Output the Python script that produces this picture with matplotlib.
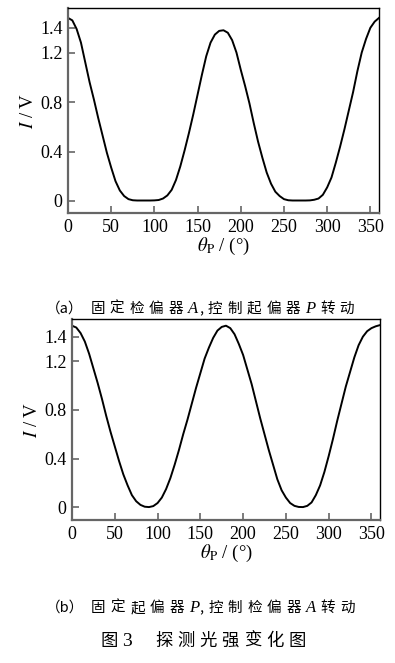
import matplotlib
matplotlib.use("Agg")
import matplotlib.pyplot as plt

# ---------------- data ----------------
theta = list(range(0, 361, 5))

# (a) analyzer A fixed, polarizer P rotating
intensity_a = [
    1.48, 1.46, 1.39, 1.28, 1.12, 0.96, 0.82, 0.67, 0.53, 0.39,
    0.27, 0.16, 0.085, 0.04, 0.015, 0.006, 0.004, 0.004, 0.004, 0.004,
    0.005, 0.008, 0.02, 0.045, 0.09, 0.17, 0.28, 0.41, 0.55, 0.70,
    0.86, 1.02, 1.17, 1.28, 1.345, 1.375, 1.38, 1.36, 1.30, 1.20,
    1.06, 0.93, 0.79, 0.63, 0.48, 0.35, 0.23, 0.14, 0.075, 0.04,
    0.015, 0.006, 0.004, 0.004, 0.004, 0.004, 0.005, 0.01, 0.02, 0.05,
    0.11, 0.19, 0.31, 0.44, 0.58, 0.73, 0.88, 1.05, 1.20, 1.31,
    1.40, 1.45, 1.48,
]

# (b) polarizer P fixed, analyzer A rotating
intensity_b = [
    1.49, 1.475, 1.43, 1.36, 1.26, 1.14, 1.02, 0.89, 0.75, 0.62,
    0.50, 0.38, 0.27, 0.18, 0.10, 0.05, 0.02, 0.005, 0.002, 0.01,
    0.035, 0.08, 0.15, 0.24, 0.35, 0.47, 0.60, 0.72, 0.85, 0.98,
    1.10, 1.22, 1.31, 1.39, 1.45, 1.48, 1.49, 1.47, 1.42, 1.34,
    1.25, 1.13, 1.01, 0.87, 0.73, 0.60, 0.47, 0.35, 0.23, 0.14,
    0.08, 0.035, 0.012, 0.003, 0.002, 0.012, 0.04, 0.10, 0.18, 0.29,
    0.42, 0.56, 0.71, 0.85, 0.99, 1.11, 1.23, 1.33, 1.40, 1.445,
    1.47, 1.485, 1.495,
]

xticks = [0, 50, 100, 150, 200, 250, 300, 350]
yticks = [0, 0.4, 0.8, 1.2, 1.4]
ytick_labels = ["0", "0.4", "0.8", "1.2", "1.4"]

# caption tokens: (text, kind)
caption_a = [("（a）", "word"), ("固定检偏器", "cjk"), ("A", "it"), (",", "word"),
             ("控制起偏器", "cjk"), ("P", "it"), ("转动", "cjk")]
caption_b = [("（b）", "word"), ("固定起偏器", "cjk"), ("P", "it"), (",", "word"),
             ("控制检偏器", "cjk"), ("A", "it"), ("转动", "cjk")]
title_tokens = [("图", "cjk"), ("3", "num"), ("探测光强变化图", "cjk")]

# ---------------- style ----------------
plt.rcParams["font.family"] = ["Liberation Serif", "DejaVu Serif"]
plt.rcParams["mathtext.fontset"] = "stix"

W, H = 395, 663
fig = plt.figure(figsize=(W / 100, H / 100), dpi=100)

spine_col = "#666666"


def make_axes(box, y, ylim):
    l, t, r, b = box
    ax = fig.add_axes([l / W, 1 - b / H, (r - l) / W, (b - t) / H])
    ax.plot(theta, y, color="black", lw=1.4)
    ax.set_xlim(0, 360)
    ax.set_ylim(*ylim)
    ax.set_xticks(xticks)
    ax.set_yticks(yticks)
    ax.set_yticklabels(ytick_labels)
    ax.tick_params(direction="in", length=5, width=1.2, color=spine_col,
                   labelsize=13, top=False, right=False)
    ax.tick_params(axis="x", pad=4)
    ax.tick_params(axis="y", pad=4)
    for s in ["left", "bottom"]:
        ax.spines[s].set_color(spine_col)
        ax.spines[s].set_linewidth(1.6)
    for s in ["top", "right"]:
        ax.spines[s].set_color("black")
        ax.spines[s].set_linewidth(1.0)
    ax.set_ylabel("$I$ / V", fontsize=13.5, labelpad=2)
    ax.set_xlabel(r"$\theta_{\mathrm{P}}$ / (°)", fontsize=13.5, labelpad=0)
    return ax


ax1 = make_axes((68, 8, 379, 213), intensity_a, (-0.097, 1.56))
ax2 = make_axes((72, 319, 380, 520), intensity_b, (-0.104, 1.545))

cjk = ["Noto Sans CJK SC", "DejaVu Sans"]


def chained_text(ax, x_px, y_px, tokens, size, gap, big_gaps=None):
    """Lay out text pieces one after another on one baseline.
    Each CJK character is its own piece, separated by `gap` points."""
    y = 1 - y_px / H
    pieces = []
    for i, (s, kind) in enumerate(tokens):
        extra = big_gaps.get(i, 0) if big_gaps else 0
        if kind == "cjk":
            for j, ch in enumerate(s):
                pieces.append((ch, dict(family=cjk, fontsize=size),
                               gap + (extra if j == 0 else 0)))
        elif kind == "word":
            pieces.append((s, dict(family=cjk, fontsize=size), 0.5 + extra))
        elif kind == "it":
            pieces.append((s, dict(family="Liberation Serif", style="italic",
                                   fontsize=size + 1.5), gap + extra))
        else:
            pieces.append((s, dict(family="Liberation Serif",
                                   fontsize=size + 1.5), gap + extra))
    prev = None
    for k, (s, props, g) in enumerate(pieces):
        if prev is None:
            prev = ax.annotate(s, xy=(x_px / W, y), xycoords="figure fraction",
                               ha="left", va="baseline",
                               annotation_clip=False, **props)
        else:
            prev = ax.annotate(s, xy=(1, y), xycoords=(prev, "figure fraction"),
                               xytext=(g, 0), textcoords="offset points",
                               ha="left", va="baseline",
                               annotation_clip=False, **props)


chained_text(ax1, 46, 313, caption_a, 10.5, 3.5, big_gaps={1: 1.5})
chained_text(ax2, 46, 612, caption_b, 10.5, 3.5, big_gaps={1: 1.5})
chained_text(ax2, 100, 646, title_tokens, 12.5, 3.5, big_gaps={2: 13})

fig.savefig("out.png", dpi=100)
